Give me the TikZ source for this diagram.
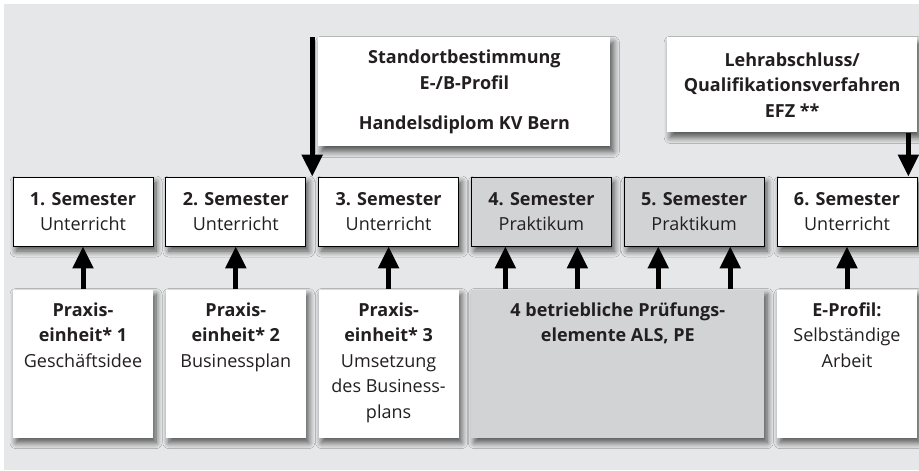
\documentclass[tikz,border=0pt]{standalone}
\usepackage{fontspec}
\setmainfont{Open Sans}
\usepackage{xcolor}
\usetikzlibrary{positioning}
\usetikzlibrary{calc}
\usetikzlibrary{arrows.meta}
\usetikzlibrary{shadows.blur}
\definecolor{bggray}{HTML}{E6E7E8}
\definecolor{boxgray}{HTML}{D1D3D4}
\definecolor{ink}{HTML}{231F20}
\newcommand{\lowtext}[2][140pt]{\parbox[t][148pt][t]{#1}{\centering\vspace*{13pt}#2}}

\tikzset{
  boxshadow/.style={blur shadow={shadow xshift=3pt, shadow yshift=-5pt, shadow blur radius=6pt, shadow blur steps=8, shadow opacity=65}},
  semester/.style={draw=black, line width=0.8pt, fill=white, boxshadow, minimum width=140pt, minimum height=69pt, align=center, inner sep=0pt},
  lowbox/.style={fill=white, boxshadow, inner sep=0pt},
  topbox/.style={fill=white, boxshadow, align=center, inner sep=0pt},
  arr/.style={draw=black, line width=5pt, -{Triangle[width=20pt,length=22pt]}},
}

\begin{document}
\begin{tikzpicture}[x=1pt, y=-1pt, font=\fontsize{18}{25.5}\selectfont, text=ink]
  \useasboundingbox (0,0) rectangle (919,471);
  \fill[bggray] (4,4) rectangle (919,470);

  % semester row
  \node[semester] (s1) at (83,211.5) {\textbf{1. Semester}\\Unterricht};
  \node[semester, right=12pt of s1] (s2) {\textbf{2. Semester}\\Unterricht};
  \node[semester, right=12pt of s2] (s3) {\textbf{3. Semester}\\Unterricht};
  \node[semester, fill=boxgray, right=12pt of s3] (s4) {\textbf{4. Semester}\\Praktikum};
  \node[semester, fill=boxgray, right=12pt of s4] (s5) {\textbf{5. Semester}\\Praktikum};
  \node[semester, right=12pt of s5] (s6) {\textbf{6. Semester}\\Unterricht};

  % practice units
  \node[lowbox, below=43pt of s1] (p1) {\lowtext{\textbf{Praxis-}\\\textbf{einheit* 1}\\Geschäftsidee}};
  \node[lowbox, below=43pt of s2] (p2) {\lowtext{\textbf{Praxis-}\\\textbf{einheit* 2}\\Businessplan}};
  \node[lowbox, below=43pt of s3] (p3) {\lowtext{\textbf{Praxis-}\\\textbf{einheit* 3}\\Umsetzung\\des Business-\\plans}};
  \coordinate (mid45) at ($(s4.south)!0.5!(s5.south)$);
  \node[lowbox, fill=boxgray, below=43pt of mid45] (pruef) {\lowtext[293pt]{\textbf{4 betriebliche Prüfungs-}\\\textbf{elemente ALS, PE}}};
  \node[lowbox, below=43pt of s6] (eprof) {\lowtext{\textbf{E-Profil:}\\Selbständige\\Arbeit}};

  % milestones
  \node[topbox, minimum width=292pt, minimum height=109pt, above right=30pt and 0pt of s3.north west] (standort)
    {\textbf{Standortbestimmung}\\\textbf{E-/B-Profil}\\[15pt]\textbf{Handelsdiplom KV Bern}};
  \node[topbox, minimum width=250pt, minimum height=95pt, above left=44pt and 0pt of s6.north east] (lehrab)
    {\textbf{Lehrabschluss/}\\\textbf{Qualifikationsverfahren}\\\textbf{EFZ **}};

  \coordinate (drop) at ($(s2.north east)!0.5!(s3.north west)$);
  \draw[arr] (drop |- standort.north) -- (drop);
  \draw[arr] ($(lehrab.south east)+(-9,0)$) -- ($(s6.north east)+(-9,0)$);

  \draw[arr] (p1) -- (s1);
  \draw[arr] (p2) -- (s2);
  \draw[arr] (p3) -- (s3);
  \foreach \s in {s4,s5}
    \foreach \dx in {-36,36}
      \draw[arr] ([xshift=\dx pt]\s.south |- pruef.north) -- ([xshift=\dx pt]\s.south);
  \draw[arr] (eprof) -- (s6);
\end{tikzpicture}
\end{document}
